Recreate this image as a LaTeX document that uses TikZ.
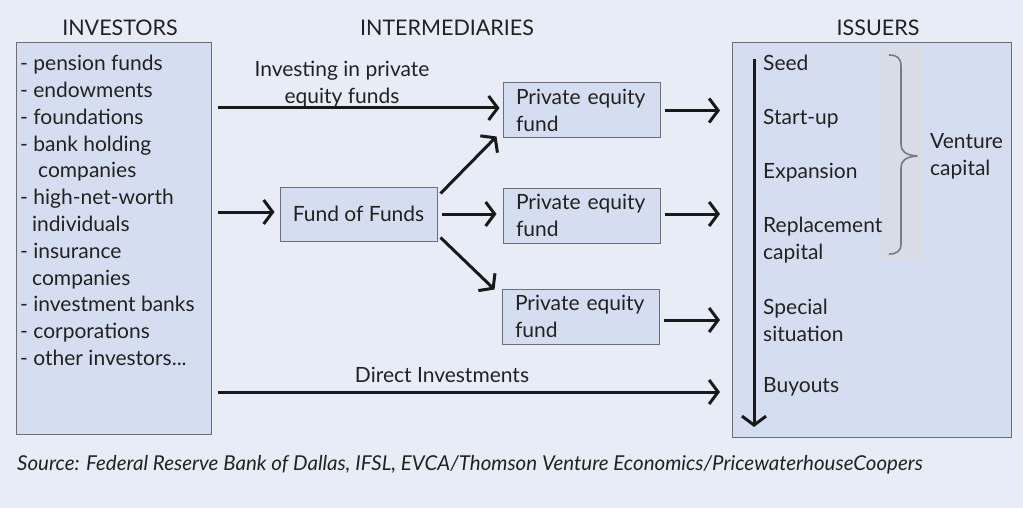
\documentclass[tikz,border=0pt]{standalone}
\usepackage{fontspec}
\setmainfont{Lato}
\usetikzlibrary{arrows.meta}
\definecolor{bgc}{HTML}{E8ECF7}
\definecolor{boxc}{HTML}{D5DEF0}
\definecolor{bordc}{HTML}{6E6E78}
\definecolor{txtc}{HTML}{222222}
\definecolor{shadec}{HTML}{D8DCE5}
\definecolor{bracec}{HTML}{7A7A82}
\begin{document}
\begin{tikzpicture}[x=1pt,y=-1pt,
  every node/.style={text=txtc},
  mainfont/.style={font=\fontsize{21}{26.8}\selectfont},
  boxstyle/.style={draw=bordc,fill=boxc,line width=1pt},
  pebox/.style={boxstyle,minimum width=157,minimum height=55,align=left,inner sep=0,mainfont,text width=131},
  arr/.style={draw=black!90,line width=3pt,-{Straight Barb[length=9,width=24,line width=3pt]}},
  title/.style={font=\fontsize{21.5}{24}\selectfont},
  bracestyle/.style={draw=bracec,line width=1.6pt,line join=round}]
\fill[bgc] (0,0) rectangle (1023,508);
\useasboundingbox (0,0) rectangle (1023,508);
% titles
\node[title] (tinv) at (120,28) {INVESTORS};
\node[title] (tint) at (447,28) {INTERMEDIARIES};
\node[title] (tiss) at (878,28) {ISSUERS};
% investors box
\node[boxstyle,anchor=north west,minimum width=195,minimum height=392,inner sep=0] (inv) at (16,42) {};
\node[mainfont,anchor=north west,align=left,inner sep=0] (invlist) at (20,55)
{- pension funds\\- endowments\\- foundations\\- bank holding\\\hspace*{18pt}companies\\- high-net-worth\\\hspace*{12pt}individuals\\- insurance\\\hspace*{12pt}companies\\- investment banks\\- corporations\\- other investors...};
% issuers box
\node[boxstyle,anchor=north west,minimum width=279,minimum height=395,inner sep=0] (iss) at (732,42) {};
\fill[shadec] (880,48) rectangle (923,260);
% intermediaries
\node[pebox] (pe1) at (581.5,110.5) {Private equity\\fund};
\node[pebox] (pe2) at (581.5,215.5) {Private equity\\fund};
\node[pebox] (pe3) at (580.5,316.5) {Private equity\\fund};
\node[boxstyle,minimum width=157,minimum height=54,inner sep=0,mainfont] (fof) at (358.5,214) {Fund of Funds};
% stages
\begin{scope}[every node/.style={mainfont,anchor=west,align=left,inner sep=0,text=txtc}]
\node (s1) at (763,63) {Seed};
\node (s2) at (763,119) {Start-up};
\node (s3) at (763,173) {Expansion};
\node (s4) at (763,240) {Replacement\\capital};
\node (s5) at (763,320) {Special\\situation};
\node (s6) at (763,387) {Buyouts};
\node (vc) at (930,156) {Venture\\capital};
\end{scope}
% brace
\draw[bracestyle] (889,55) .. controls (897,55) and (901,58) .. (901,66) -- (901,144)
  .. controls (901,151) and (905,155) .. (917,156)
  .. controls (905,157) and (901,161) .. (901,168) -- (901,244)
  .. controls (901,251) and (897,254) .. (889,254);
% vertical arrow
\coordinate (vtop) at (754,59);
\coordinate (vbot) at (754,427);
\draw[arr] (vtop) -- (vbot);
% connectors
\coordinate (dy) at (0,392);
\draw[arr] ([xshift=6,yshift=2.5]inv.east |- pe1.west) -- ([xshift=-3,yshift=2.5]pe1.west);
\node[mainfont,align=center,inner sep=0] (lab1) at (342,84) {Investing in private\\equity funds};
\draw[arr] ([xshift=6,yshift=2]inv.east |- fof.west) -- ([xshift=-5,yshift=2]fof.west);
\draw[arr] ([xshift=4]fof.east) -- ([xshift=-6]pe2.west |- fof.east);
\draw[arr] ([shift={(3,7)}]fof.north east) -- ([shift={(-6,-2)}]pe1.south west);
\draw[arr] ([shift={(3,-4)}]fof.south east) -- ([shift={(-7,1)}]pe3.north west);
\draw[arr] ([xshift=4]pe1.east) -- ([xshift=-12]iss.west |- pe1.east);
\draw[arr] ([xshift=4,yshift=1.5]pe2.east) -- ([xshift=-12,yshift=1.5]iss.west |- pe2.east);
\draw[arr] ([xshift=4,yshift=-3.5]pe3.east) -- ([xshift=-12,yshift=-3.5]iss.west |- pe3.east);
\draw[arr] ([xshift=6]inv.east |- dy) -- ([xshift=-12]iss.west |- dy);
\node[mainfont,inner sep=0] (lab2) at (442,375) {Direct Investments};
% source
\node[anchor=west,inner sep=0,font=\itshape\fontsize{20.5}{24}\selectfont] (src) at (17,465) {Source: Federal Reserve Bank of Dallas, IFSL, EVCA/Thomson Venture Economics/PricewaterhouseCoopers};
\end{tikzpicture}
\end{document}
